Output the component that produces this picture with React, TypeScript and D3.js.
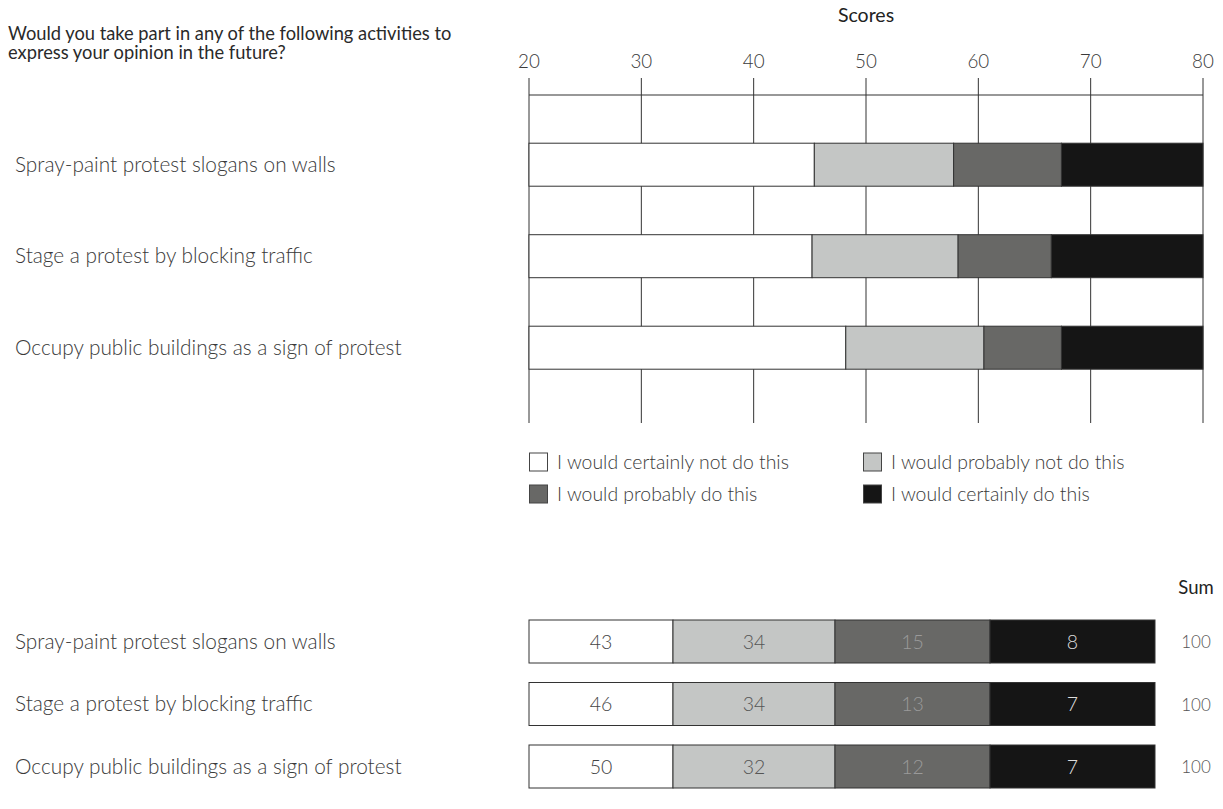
import React from "react";
import * as d3 from "d3";

const title = ["Would you take part in any of the following activities to", "express your opinion in the future?"];
const categories = [
  "Spray-paint protest slogans on walls",
  "Stage a protest by blocking traffic",
  "Occupy public buildings as a sign of protest",
];
const seriesNames = [
  "I would certainly not do this",
  "I would probably not do this",
  "I would probably do this",
  "I would certainly do this",
];
// Score boundaries of the stacked segments in the top chart (start, then ends)
const scoreStart = 20;
const segmentEnds = [
  [45.4, 57.8, 67.4, 80],
  [45.2, 58.2, 66.5, 80],
  [48.2, 60.5, 67.4, 80],
];
const tickValues = [20, 30, 40, 50, 60, 70, 80];
// Percentages in the bottom table
const certainlyNot = [43, 46, 50];
const probablyNot = [34, 34, 32];
const probablyDo = [15, 13, 12];
const certainlyDo = [8, 7, 7];
const sums = [100, 100, 100];

const colors = ["#ffffff", "#c4c6c5", "#686866", "#151515"];
const cellText = ["#444444", "#555555", "#9a9a9a", "#dddddd"];
const FONT = "Lato, 'Open Sans', sans-serif";
const textColor = "#3a3a3a";

export default function App() {
  const W = 1223, H = 809;
  const x = d3.scaleLinear().domain([20, 80]).range([529, 1203]);
  const yTop = d3.scalePoint<string>().domain(categories).range([164.7, 347.7]);
  const yBot = d3.scalePoint<string>().domain(categories).range([641.5, 766.5]);
  const barH = 43;
  const gridTop = 78, gridBottom = 423, topLine = 95;

  const tableCols = [144, 162, 155, 165];
  const tableX0 = 529;
  const colEdges = tableCols.reduce<number[]>((acc, w) => { acc.push(acc[acc.length - 1] + w); return acc; }, [tableX0]);
  const tableValues = categories.map((_, i) => [certainlyNot[i], probablyNot[i], probablyDo[i], certainlyDo[i]]);
  const sumX = 1196;

  const legendPos = [
    { x: 529, y: 462 },
    { x: 863, y: 462 },
    { x: 529, y: 494 },
    { x: 863, y: 494 },
  ];

  return (
    <svg width={W} height={H} style={{ position: "absolute", left: 0, top: 0, background: "#fff" }} fontFamily={FONT}>
      {/* title */}
      {title.map((t, i) => (
        <text key={i} x={8} y={40 + i * 19} fontSize={18.3} fill="#2a2a2a" fontWeight={400}>{t}</text>
      ))}
      {/* axis title */}
      <text x={x(50)} y={21.5} fontSize={19.5} textAnchor="middle" fill="#222">Scores</text>
      {tickValues.map((t) => (
        <text key={t} x={x(t)} y={68} fontSize={18.8} fontWeight={300} textAnchor="middle" fill={textColor}>{t}</text>
      ))}
      {/* gridlines */}
      {tickValues.map((t) => (
        <line key={"g" + t} x1={x(t)} x2={x(t)} y1={gridTop} y2={gridBottom} stroke="#333" strokeWidth={1} />
      ))}
      <line x1={x(20)} x2={x(80)} y1={topLine} y2={topLine} stroke="#333" strokeWidth={1.2} />
      {/* top stacked bars */}
      {categories.map((c, i) => {
        const yc = yTop(c)!;
        let prev = scoreStart;
        return (
          <g key={c}>
            {segmentEnds[i].map((e, j) => {
              const x0 = x(prev);
              prev = e;
              return (
                <rect key={j} x={x0} y={yc - barH / 2} width={x(e) - x0} height={barH}
                  fill={colors[j]} stroke="#333" strokeWidth={1} />
              );
            })}
            <text x={15} y={yc + 7} fontSize={20.8} fontWeight={300} fill={textColor}>{c}</text>
          </g>
        );
      })}
      {/* legend */}
      {seriesNames.map((s, i) => (
        <g key={s}>
          <rect x={legendPos[i].x + 0.5} y={legendPos[i].y - 9} width={18} height={18} fill={colors[i]} stroke="#444" strokeWidth={1} />
          <text x={legendPos[i].x + 28} y={legendPos[i].y + 7} fontSize={19.4} fontWeight={300} fill={textColor}>{s}</text>
        </g>
      ))}
      {/* bottom table */}
      <text x={sumX} y={594} fontSize={18.5} textAnchor="middle" fill="#222">Sum</text>
      {categories.map((c, i) => {
        const yc = yBot(c)!;
        return (
          <g key={"b" + c}>
            <text x={15} y={yc + 7} fontSize={20.8} fontWeight={300} fill={textColor}>{c}</text>
            {tableValues[i].map((v, j) => (
              <g key={j}>
                <rect x={colEdges[j]} y={yc - barH / 2} width={colEdges[j + 1] - colEdges[j]} height={barH}
                  fill={colors[j]} stroke="#333" strokeWidth={1} />
                <text x={(colEdges[j] + colEdges[j + 1]) / 2} y={yc + 7} fontSize={19.5} fontWeight={300}
                  textAnchor="middle" fill={cellText[j]}>{v}</text>
              </g>
            ))}
            <text x={sumX} y={yc + 6.5} fontSize={17} fontWeight={300} textAnchor="middle" fill="#555">{sums[i]}</text>
          </g>
        );
      })}
    </svg>
  );
}
